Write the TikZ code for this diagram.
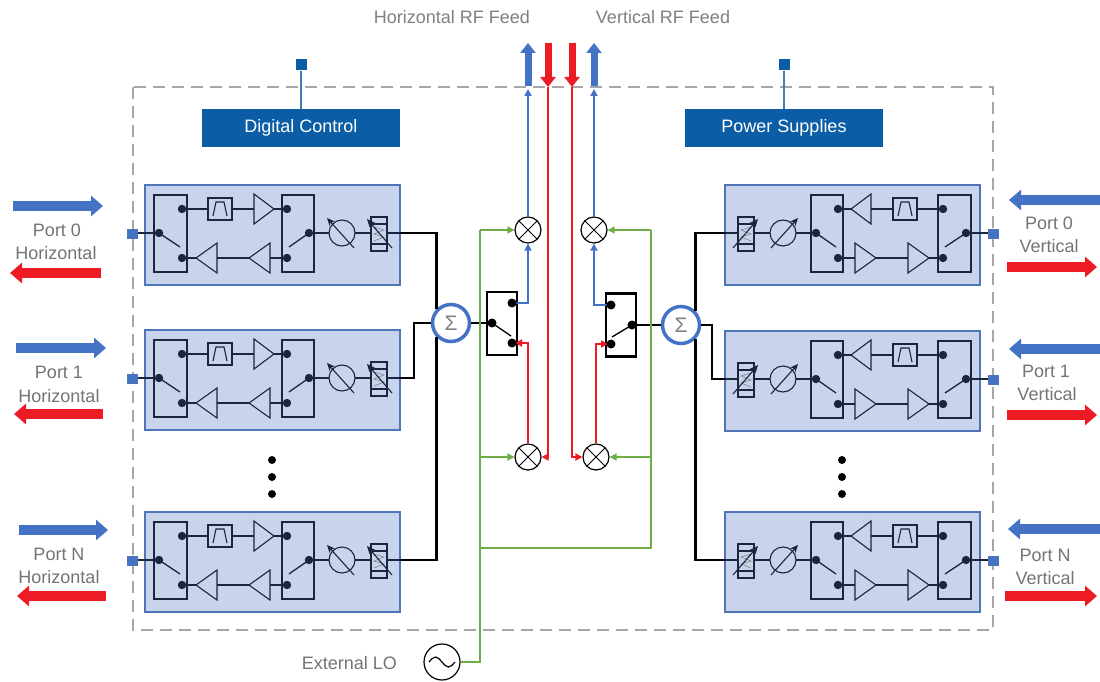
\documentclass[tikz,border=0pt]{standalone}
\usepackage{fontspec}
\setmainfont{Liberation Sans}
\usetikzlibrary{arrows.meta,calc}
\definecolor{modfill}{HTML}{C8D4EB}
\definecolor{modedge}{HTML}{4F75B7}
\definecolor{navy}{HTML}{1A2540}
\definecolor{pblue}{HTML}{4472C4}
\definecolor{pred}{HTML}{ED1C24}
\definecolor{pgreen}{HTML}{70AD47}
\definecolor{dgray}{HTML}{A6A6A6}
\definecolor{tgray}{HTML}{747474}
\definecolor{ctrl}{HTML}{0B5EA5}
\tikzset{
  module/.pic={
    \fill[modfill] (0,0) rectangle (255,100);
    \draw[modedge, line width=1.2pt] (0,0) rectangle (255,100);
    \draw[navy, line width=1.1pt] (-13,48) -- (14,48);
    \draw[navy, line width=1.1pt] (37,24) -- (63,24) (87,24) -- (109,24) (129,24) -- (142,24);
    \draw[navy, line width=1.1pt] (142,73) -- (125,73) (104,73) -- (72,73) (51,73) -- (37,73);
    \draw[navy, line width=1.1pt] (164,48) -- (184,48) (210,48) -- (226,48) (242,48) -- (255,48);
    \draw[navy, line width=2.6pt] (9,10) rectangle (42,87) (137,10) rectangle (169,87);
    \draw[navy, line width=1.1pt] (63,13) rectangle (87,35);
    \draw[navy, line width=1.1pt] (68,31) -- (71,17) -- (79,17) -- (82,31);
    \draw[navy, line width=1.1pt, line join=miter] (109,9) -- (109,39) -- (129,24) -- cycle
      (125,58) -- (125,88) -- (104,73) -- cycle (72,58) -- (72,88) -- (51,73) -- cycle;
    \draw[navy, line width=1.3pt] (14,48) -- (35,62) (164,48) -- (144,62);
    \fill[navy] (37,24) circle (4.2) (37,73) circle (4.2) (14,48) circle (4.2)
      (142,24) circle (4.2) (142,73) circle (4.2) (164,48) circle (4.2);
    \draw[navy, line width=1.1pt] (197,48) circle (13);
    \draw[navy, line width=1.1pt, -{Stealth[length=8pt,width=7pt]}] (209,63) -- (182,33);
    \draw[navy, line width=2pt] (226,32) rectangle (242,66);
    \draw[navy, line width=1.1pt] (226,39) -- (242,39) (226,59) -- (242,59);
    \draw[gray, line width=0.6pt] (229,42) -- (239,45) -- (229,49) -- (239,52) -- (229,56);
    \draw[navy, line width=1.1pt, -{Stealth[length=8pt,width=7pt]}] (247,63) -- (222,34);
    \fill[pblue, draw=modedge, line width=0.6pt] (-18,44) rectangle (-8,53);
    \coordinate (-out) at (255,48);
  },
  bk/.style={black, line width=2.6pt},
  bl/.style={pblue, line width=2.2pt},
  rd/.style={pred, line width=2.2pt},
  gr/.style={pgreen, line width=2.2pt},
  arrhd/.style={-{Triangle[length=7pt,width=7pt]}},
  feedarrow/.style={line width=7pt, -{Triangle[length=10pt,width=15pt]}},
  portarrow/.style={line width=10pt, -{Triangle[length=12pt,width=20pt]}},
  lbl/.style={text=tgray, font=\fontsize{18}{20}\selectfont, anchor=base, inner sep=0pt},
  ctrlbox/.style={fill=ctrl, text=white, minimum width=198pt, minimum height=38pt, inner sep=0pt, font=\fontsize{18}{20}\selectfont},
  ctrlsq/.style={fill=ctrl, minimum size=11pt, inner sep=0pt},
  sumnode/.style={circle, draw=pblue, line width=3.5pt, fill=white, minimum size=37pt, inner sep=0pt, text=gray, font=\fontsize{21}{21}\selectfont},
  mixer/.style={circle, draw=black, line width=1.2pt, fill=white, minimum size=26pt, inner sep=0pt,
    path picture={\draw[line width=1pt] (path picture bounding box.north west) -- (path picture bounding box.south east)
      (path picture bounding box.north east) -- (path picture bounding box.south west);}},
  osc/.style={circle, draw=black, line width=1.2pt, fill=white, minimum size=36pt, inner sep=0pt,
    path picture={\draw[line width=1.2pt] ([xshift=-13pt]path picture bounding box.center) sin ++(6.5pt,5pt) cos ++(6.5pt,-5pt) sin ++(6.5pt,-5pt) cos ++(6.5pt,5pt);}},
  swbox/.style={draw=black, line width=2.6pt, minimum width=30pt, minimum height=63pt, inner sep=0pt},
}
\begin{document}
\begin{tikzpicture}[x=1pt,y=-1pt]
\useasboundingbox (0,0) rectangle (1100,682);
\fill[white] (0,0) rectangle (1100,682);
% boundary
\draw[dgray, line width=1.8pt, dash pattern=on 12pt off 7pt] (133,87) rectangle (993,630);

% control boxes
\node[ctrlsq] (dcsq) at (301,65) {};
\node[ctrlsq] (pssq) at (784,65) {};
\node[ctrlbox] (dc) at (301,128) {Digital Control};
\node[ctrlbox] (ps) at (784,128) {Power Supplies};
\draw[ctrl!80!white, line width=2pt] (dcsq) -- (dc);
\draw[ctrl!80!white, line width=2pt] (pssq) -- (ps);

% modules
\pic (L0) at (145,185) {module};
\pic (L1) at (145,330) {module};
\pic (LN) at (145,512) {module};
\pic[xscale=-1] (R0) at (980,185) {module};
\pic[xscale=-1] (R1) at (980,331) {module};
\pic[xscale=-1] (RN) at (980,512) {module};

% vertical dots
\foreach \yy [count=\i] in {460,477,494} {
  \fill (272,\yy) circle (4) coordinate (dl\i);
  \fill (842,\yy) circle (4) coordinate (dr\i);
}

% summing nodes
\node[sumnode] (sL) at (451,323) {Σ};
\node[sumnode] (sR) at (681,325) {Σ};
\draw[bk] (L0-out) -| (sL.north west);
\draw[bk] (LN-out) -| (sL.south west);
\draw[bk] (L1-out) -- ++(14,0) |- (sL.west);
\draw[bk] (R0-out) -| (sR.north east);
\draw[bk] (RN-out) -| (sR.south east);
\draw[bk] (R1-out) -- ++(-13,0) |- (sR.east);

% switches
\node[swbox] (swL) at (502,323.5) {};
\node[swbox] (swR) at (621,325) {};
\coordinate (swLc) at (492,323);
\coordinate (swLt) at (512,303);
\coordinate (swLb) at (512,343);
\coordinate (swRc) at (632,325);
\coordinate (swRt) at (611,305);
\coordinate (swRb) at (611,344);
\draw[bk] (sL.east) -- (swLc);
\draw[bk] (sR.west) -- (swRc);
\draw[black, line width=1.3pt] (swLc) -- (511,336);
\draw[black, line width=1.3pt] (swRc) -- (612,337);

% mixers
\node[mixer] (mTL) at (528,230) {};
\node[mixer] (mBL) at (528,457) {};
\node[mixer] (mTR) at (594,230) {};
\node[mixer] (mBR) at (596,457) {};

% feed coordinates
\coordinate (fbL) at (528,89);
\coordinate (frL) at (548,87);
\coordinate (frR) at (572,87);
\coordinate (fbR) at (594,89);

% blue paths
\draw[bl, arrhd] (swLt) -| (mTL.south);
\draw[bl, arrhd] (mTL.north) -- (fbL);
\draw[bl, arrhd] (swRt) -| (mTR.south);
\draw[bl, arrhd] (mTR.north) -- (fbR);
% red paths
\draw[rd, arrhd] (frL) |- (mBL.east);
\draw[rd, arrhd, shorten >=3pt] (mBL.north) |- (swLb);
\draw[rd, arrhd] (frR) |- (mBR.west);
\draw[rd, arrhd, shorten >=3pt] (mBR.north) |- (swRb);

% dots on switches
\fill (swLc) circle (4.5) (swLt) circle (4.5) (swLb) circle (4.5);
\fill (swRc) circle (4.5) (swRt) circle (4.5) (swRb) circle (4.5);

% LO
\node[osc] (lo) at (442,662) {};
\node[lbl, anchor=base east] (lolbl) at (397,669) {External LO};
\coordinate (gTL) at (480,230);
\coordinate (gB) at (480,548);
\coordinate (gTR) at (651,230);
\draw[gr] (lo.east) -| (gTL);
\draw[gr, arrhd] (gTL) -- (mTL.west);
\draw[gr, arrhd] (gTL |- mBL) -- (mBL.west);
\draw[gr] (gB) -| (gTR);
\draw[gr, arrhd] (gTR) -- (mTR.east);
\draw[gr, arrhd] (gTR |- mBR) -- (mBR.east);

% thick feed arrows
\coordinate (fbLt) at (528,43);
\coordinate (frLt) at (548,43);
\coordinate (frRt) at (572,43);
\coordinate (fbRt) at (594,43);
\draw[pblue, feedarrow] (528,86) -- (fbLt);
\draw[pred, feedarrow] (frLt) -- (548,87);
\draw[pred, feedarrow] (frRt) -- (572,87);
\draw[pblue, feedarrow] (594,86) -- (fbRt);
\node[lbl, text=gray] (hfeed) at (452,24) {Horizontal RF Feed};
\node[lbl, text=gray] (vfeed) at (663,24) {Vertical RF Feed};

% left port arrows and labels
\draw[pblue, portarrow] (13,206) -- (103,206);
\draw[pred, portarrow] (101,273) -- (10,273);
\node[lbl] (p0h) at (57,236) {Port 0};
\node[lbl] (p0hh) at (56,259) {Horizontal};
\draw[pblue, portarrow] (16,348) -- (106,348);
\draw[pred, portarrow] (103,414) -- (14,414);
\node[lbl] (p1h) at (59,378) {Port 1};
\node[lbl] (p1hh) at (59,402) {Horizontal};
\draw[pblue, portarrow] (19,530) -- (108,530);
\draw[pred, portarrow] (106,596) -- (17,596);
\node[lbl] (pNh) at (59,560) {Port N};
\node[lbl] (pNhh) at (59,583) {Horizontal};

% right port arrows and labels
\draw[pblue, portarrow] (1100,200) -- (1009,200);
\draw[pred, portarrow] (1007,267) -- (1097,267);
\node[lbl] (p0v) at (1049,229) {Port 0};
\node[lbl] (p0vv) at (1049,252) {Vertical};
\draw[pblue, portarrow] (1100,349) -- (1009,349);
\draw[pred, portarrow] (1007,415) -- (1097,415);
\node[lbl] (p1v) at (1046,377) {Port 1};
\node[lbl] (p1vv) at (1047,400) {Vertical};
\draw[pblue, portarrow] (1100,529) -- (1008,529);
\draw[pred, portarrow] (1005,596) -- (1097,596);
\node[lbl] (pNv) at (1045,561) {Port N};
\node[lbl] (pNvv) at (1045,584) {Vertical};
\end{tikzpicture}
\end{document}
